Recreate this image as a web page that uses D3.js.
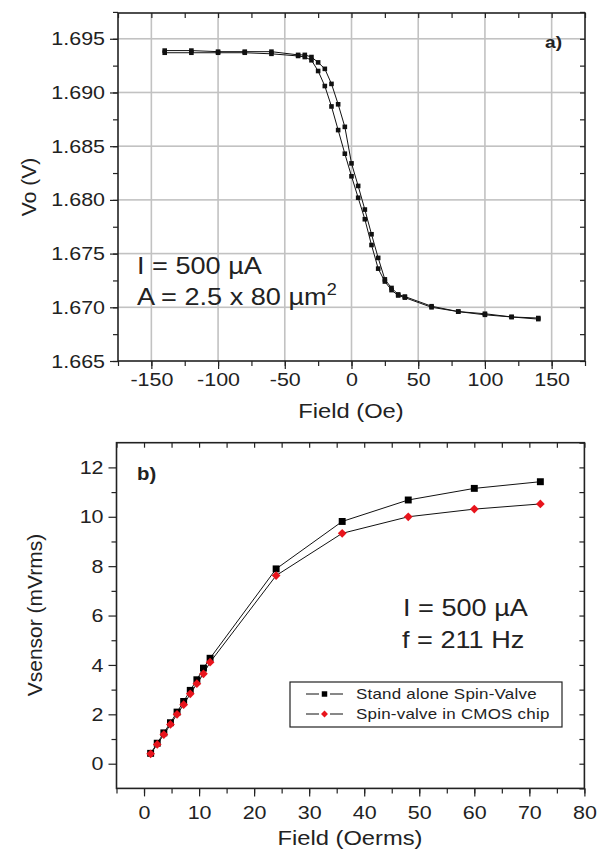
<!DOCTYPE html>
<html>
<head>
<meta charset="utf-8">
<script src="https://cdn.jsdelivr.net/npm/d3@7"></script>
<style>
  body { margin: 0; background: #fff; }
  text { font-family: "Liberation Sans", Arial, sans-serif; fill: #222; }
</style>
</head>
<body>
<svg id="chart" width="599" height="849"></svg>
<script>
// ---- panel a) : hysteresis loop ----
const fieldOe = [-140, -120, -100, -80, -60, -40, -35, -30, -25, -20, -15, -10, -5, 0,
                 5, 10, 15, 20, 25, 30, 35, 40, 60, 80, 100, 120, 140];
const voRight = [1.6939, 1.6939, 1.6938, 1.6938, 1.6938, 1.6935, 1.6935, 1.6933, 1.6928, 1.6922,
                 1.6908, 1.6889, 1.6868, 1.6834, 1.6813, 1.6791, 1.6768, 1.6746, 1.6726, 1.6718,
                 1.6712, 1.6710, 1.6701, 1.6696, 1.6694, 1.6691, 1.6690];
const voLeft  = [1.6937, 1.6937, 1.6937, 1.6937, 1.6936, 1.6934, 1.6933, 1.6930, 1.6920, 1.6906,
                 1.6887, 1.6865, 1.6843, 1.6822, 1.6802, 1.6782, 1.6758, 1.6736, 1.6724, 1.6716,
                 1.6711, 1.6709, 1.6700, 1.6696, 1.6693, 1.6691, 1.6689];
const xTicksA = [-150, -100, -50, 0, 50, 100, 150];
const yTicksA = [1.665, 1.670, 1.675, 1.680, 1.685, 1.690, 1.695];

// ---- panel b) : sensor output ----
const fieldOerms = [1.2, 2.4, 3.6, 4.8, 6.0, 7.2, 8.4, 9.6, 10.8, 12, 24, 36, 48, 60, 72];
const standAlone = [0.42, 0.83, 1.25, 1.66, 2.09, 2.52, 2.97, 3.40, 3.87, 4.27, 7.89, 9.81, 10.68, 11.15, 11.42];
const cmosChip   = [0.40, 0.78, 1.18, 1.59, 2.00, 2.39, 2.83, 3.24, 3.64, 4.11, 7.62, 9.33, 10.00, 10.31, 10.52];
const xTicksB = [0, 10, 20, 30, 40, 50, 60, 70, 80];
const yTicksB = [0, 2, 4, 6, 8, 10, 12];
const legendLabels = ["Stand alone Spin-Valve", "Spin-valve in CMOS chip"];

const K = 1.13; // the source figure is a bit wider than tall, text looks stretched
const svg = d3.select("#chart");

function stretch(sel) {
    sel.each(function () {
        const t = d3.select(this);
        const x = +t.attr("x") || 0;
        const prev = t.attr("transform") || "";
        t.attr("transform", `${prev} translate(${x},0) scale(${K},1) translate(${-x},0)`);
    });
}

const plainFmt = d => String(d);

function frameAxes(g, x, y, opt) {
    const [x0, x1] = x.range();
    const [y0, y1] = y.range();
    // minor ticks first
    g.append("g").attr("transform", `translate(0,${y0})`)
        .call(d3.axisBottom(x).tickValues(opt.xMinor).tickFormat("").tickSizeInner(5).tickSizeOuter(0));
    g.append("g").attr("transform", `translate(${x0},0)`)
        .call(d3.axisLeft(y).tickValues(opt.yMinor).tickFormat("").tickSizeInner(5).tickSizeOuter(0));
    g.append("g").attr("transform", `translate(0,${y1})`)
        .call(d3.axisTop(x).tickValues(opt.xTop).tickFormat("").tickSizeInner(-5).tickSizeOuter(0));
    g.append("g").attr("transform", `translate(${x1},0)`)
        .call(d3.axisRight(y).tickValues(opt.yRight).tickFormat("").tickSizeInner(-5).tickSizeOuter(0));
    const bx = g.append("g").attr("transform", `translate(0,${y0})`)
        .call(d3.axisBottom(x).tickValues(opt.xTicks).tickFormat(opt.xFmt)
            .tickSizeInner(8).tickSizeOuter(0).tickPadding(opt.xPad));
    const ly = g.append("g").attr("transform", `translate(${x0},0)`)
        .call(d3.axisLeft(y).tickValues(opt.yTicks).tickFormat(opt.yFmt)
            .tickSizeInner(8).tickSizeOuter(0).tickPadding(5));
    g.selectAll(".domain").remove();
    g.selectAll(".tick line").attr("stroke", "#222").attr("stroke-width", 1.2);
    [bx, ly].forEach(a => {
        a.selectAll("text").attr("font-size", 19).attr("fill", "#222")
            .attr("font-family", "Liberation Sans, Arial, sans-serif");
        stretch(a.selectAll("text"));
    });
    g.append("rect")
        .attr("x", x0).attr("y", y1).attr("width", x1 - x0).attr("height", y0 - y1)
        .attr("fill", "none").attr("stroke", "#222").attr("stroke-width", 1.6);
}

// ================= panel a =================
const xA = d3.scaleLinear().domain([-175, 175]).range([118, 585]);
const yA = d3.scaleLinear().domain([1.665, 1.6974]).range([361, 13]);
const gA = svg.append("g");

// light grid at the major ticks
const gridA = gA.append("g").attr("fill", "#c2c2c2");
gridA.selectAll("rect.vx").data(xTicksA).enter().append("rect").attr("class", "vx")
    .attr("x", d => xA(d) - 0.8).attr("y", yA.range()[1])
    .attr("width", 1.6).attr("height", yA.range()[0] - yA.range()[1]);
gridA.selectAll("rect.hy").data(yTicksA.slice(1)).enter().append("rect").attr("class", "hy")
    .attr("x", xA.range()[0]).attr("y", d => yA(d) - 0.8)
    .attr("width", xA.range()[1] - xA.range()[0]).attr("height", 1.6);

const minorXA = d3.range(-175, 176, 25);
const minorYA = d3.range(1.665, 1.6976, 0.0025);
frameAxes(gA, xA, yA, {
    xMinor: minorXA, yMinor: minorYA, xTop: minorXA, yRight: minorYA,
    xTicks: xTicksA, yTicks: yTicksA, xFmt: plainFmt, yFmt: d3.format(".3f"), xPad: 4
});

const loopA = fieldOe.map((f, i) => ({ x: f, y: voRight[i] }));
const loopB = fieldOe.map((f, i) => ({ x: f, y: voLeft[i] }));
const lineA = d3.line().x(d => xA(d.x)).y(d => yA(d.y));
[loopA, loopB].forEach(series => {
    gA.append("path").datum(series)
        .attr("fill", "none").attr("stroke", "#111").attr("stroke-width", 1)
        .attr("d", lineA);
    gA.append("g").selectAll("rect").data(series).enter().append("rect")
        .attr("x", d => xA(d.x) - 2.3).attr("y", d => yA(d.y) - 2.3)
        .attr("width", 4.6).attr("height", 4.6).attr("fill", "#111");
});

const labelsA = [];
labelsA.push(gA.append("text").attr("x", 351).attr("y", 418).attr("text-anchor", "middle")
    .attr("font-size", 21).text("Field (Oe)"));
gA.append("text").attr("transform", "translate(36,187) rotate(-90)").attr("text-anchor", "middle")
    .attr("font-size", 21).text("Vo (V)");
labelsA.push(gA.append("text").attr("x", 545).attr("y", 48).attr("font-size", 17)
    .attr("font-weight", "bold").text("a)"));
labelsA.push(gA.append("text").attr("x", 137).attr("y", 274).attr("font-size", 24).text("I = 500 µA"));
const aText = gA.append("text").attr("x", 137).attr("y", 305).attr("font-size", 24).text("A = 2.5 x 80 µm");
aText.append("tspan").attr("dy", -10).attr("font-size", 16).text("2");
labelsA.push(aText);
labelsA.forEach(stretch);

// ================= panel b =================
const xB = d3.scaleLinear().domain([-5, 80]).range([116.5, 584.4]);
const yB = d3.scaleLinear().domain([-1, 13]).range([788.4, 442.7]);
const gB = svg.append("g");

frameAxes(gB, xB, yB, {
    xMinor: d3.range(-5, 81, 5), yMinor: d3.range(1, 13, 2),
    xTop: d3.range(-5, 81, 5), yRight: d3.range(-1, 14, 1),
    xTicks: xTicksB, yTicks: yTicksB, xFmt: plainFmt, yFmt: plainFmt, xPad: 9
});

const lineB = d3.line().x(d => xB(d.x)).y(d => yB(d.y));
const seriesB = [
    { values: standAlone, color: "#000", shape: "square" },
    { values: cmosChip, color: "#e8141c", shape: "diamond" }
];
seriesB.forEach(s => {
    const pts = fieldOerms.map((f, i) => ({ x: f, y: s.values[i] }));
    gB.append("path").datum(pts)
        .attr("fill", "none").attr("stroke", "#111").attr("stroke-width", 1)
        .attr("d", lineB);
});
const symSquare = d3.symbol().type(d3.symbolSquare).size(48);
const symDiamond = d3.symbol().type(d3.symbolSquare).size(38);
seriesB.forEach(s => {
    const pts = fieldOerms.map((f, i) => ({ x: f, y: s.values[i] }));
    gB.append("g").selectAll("path").data(pts).enter().append("path")
        .attr("d", s.shape === "square" ? symSquare() : symDiamond())
        .attr("transform", d => `translate(${xB(d.x)},${yB(d.y)})` + (s.shape === "diamond" ? " rotate(45)" : ""))
        .attr("fill", s.color);
});

const labelsB = [];
labelsB.push(gB.append("text").attr("x", 350).attr("y", 845).attr("text-anchor", "middle")
    .attr("font-size", 21).text("Field (Oerms)"));
gB.append("text").attr("transform", "translate(42,615) rotate(-90)").attr("text-anchor", "middle")
    .attr("font-size", 21).text("Vsensor (mVrms)");
labelsB.push(gB.append("text").attr("x", 137).attr("y", 480).attr("font-size", 18)
    .attr("font-weight", "bold").text("b)"));
labelsB.push(gB.append("text").attr("x", 403).attr("y", 616).attr("font-size", 24).text("I = 500 µA"));
labelsB.push(gB.append("text").attr("x", 402).attr("y", 648).attr("font-size", 24).text("f = 211 Hz"));

// legend
const leg = gB.append("g");
leg.append("rect").attr("x", 290).attr("y", 682).attr("width", 272).attr("height", 45)
    .attr("fill", "#fff").attr("stroke", "#222").attr("stroke-width", 1.2);
seriesB.forEach((s, i) => {
    const cy = 694 + i * 20;
    leg.append("line").attr("x1", 306).attr("x2", 343).attr("y1", cy).attr("y2", cy)
        .attr("stroke", "#111").attr("stroke-width", 1);
    leg.append("rect").attr("x", 319).attr("y", cy - 5).attr("width", 11).attr("height", 10).attr("fill", "#fff");
    leg.append("path")
        .attr("d", s.shape === "square" ? d3.symbol().type(d3.symbolSquare).size(30)() : d3.symbol().type(d3.symbolSquare).size(24)())
        .attr("transform", `translate(324.5,${cy})` + (s.shape === "diamond" ? " rotate(45)" : ""))
        .attr("fill", s.color);
    labelsB.push(leg.append("text").attr("x", 356).attr("y", cy + 5.5).attr("font-size", 15)
        .attr("letter-spacing", 0.2).text(legendLabels[i]));
});
labelsB.forEach(stretch);
</script>
</body>
</html>
